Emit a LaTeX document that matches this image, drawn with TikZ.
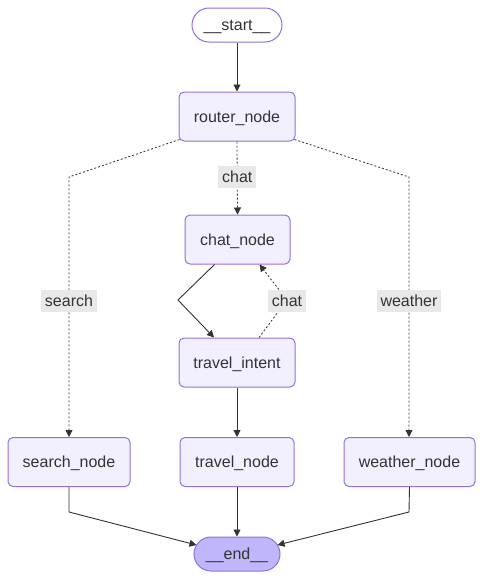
\documentclass[tikz,border=0pt]{standalone}
\usepackage{fontspec}
\setmainfont{Liberation Sans}
\usetikzlibrary{arrows.meta}
\definecolor{nodefill}{HTML}{F2F0FF}
\definecolor{nodeborder}{HTML}{9370DB}
\definecolor{endfill}{HTML}{BFB6FC}
\definecolor{txt}{HTML}{333333}
\definecolor{lblbg}{HTML}{E8E8E8}
\tikzset{
  box/.style={draw=nodeborder, fill=nodefill, line width=1pt, rounded corners=5pt,
    minimum height=49pt, text=txt, font=\fontsize{16}{19}\selectfont, inner sep=0pt,
    text height=11pt, text depth=0pt},
  terminal/.style={draw=nodeborder, line width=1pt, rounded corners=17pt,
    minimum height=34pt, text=txt, font=\fontsize{16}{19}\selectfont, inner sep=0pt,
    text height=11pt, text depth=0pt},
  solidedge/.style={draw=txt, line width=0.9pt, -{Triangle[length=7pt,width=7pt]}},
  dotedge/.style={draw=txt, line width=0.8pt, dash pattern=on 2pt off 2pt, -{Triangle[length=7pt,width=7pt]}},
  lbl/.style={fill=lblbg, text=txt, font=\fontsize{16}{19}\selectfont, inner xsep=4pt,
    inner ysep=0pt, minimum height=22pt, text height=11pt, text depth=0pt}
}
\begin{document}
\begin{tikzpicture}[x=1pt,y=-1pt]
\useasboundingbox (0,0) rectangle (484,579);
\node[terminal, fill=white, minimum width=90pt] (start) at (237,25) {\_\_start\_\_};
\node[box, minimum width=116pt] (router) at (237,116.5) {router\_node};
\node[box, minimum width=105pt] (chat) at (237.5,239.5) {chat\_node};
\node[box, minimum width=116pt] (intent) at (237,362.5) {travel\_intent};
\node[box, minimum width=122pt] (search) at (69,462) {search\_node};
\node[box, minimum width=114pt] (travel) at (237,462) {travel\_node};
\node[box, minimum width=131pt] (weather) at (409.5,462) {weather\_node};
\node[terminal, fill=endfill, minimum width=86pt] (end) at (237,554) {\_\_end\_\_};

\coordinate (sbend) at (69,177);
\coordinate (wbend) at (409,177);
\coordinate (cbendL) at (178,300);
\coordinate (cbendR) at (287,300);
\coordinate (ebendL) at (69,512);
\coordinate (ebendR) at (409,512);

\draw[solidedge] (start.south) -- (router.north);
\draw[dotedge] (router.south) -- node[lbl, pos=0.48]{chat} (chat.north);
\draw[dotedge] ([xshift=1pt,yshift=2pt]router.south west) -- (sbend) -- node[lbl, pos=0.477]{search} (search.north -| sbend);
\draw[dotedge] ([xshift=-1pt,yshift=2pt]router.south east) -- (wbend) -- node[lbl, pos=0.477]{weather} (weather.north -| wbend);
\draw[solidedge] ([xshift=-23pt]chat.south) -- (cbendL) -- ([xshift=-23pt]intent.north);
\draw[dotedge] ([xshift=22pt]intent.north) -- (cbendR) -- ([xshift=22pt]chat.south);
\node[lbl] (chatlbl2) at (287,301) {chat};
\draw[solidedge] (intent.south) -- (travel.north);
\draw[solidedge] (search.south) -- (ebendL) -- ([xshift=3pt,yshift=9pt]end.west);
\draw[solidedge] (travel.south) -- (end.north);
\draw[solidedge] (weather.south) -- (ebendR) -- ([xshift=-3pt,yshift=9pt]end.east);
\end{tikzpicture}
\end{document}
